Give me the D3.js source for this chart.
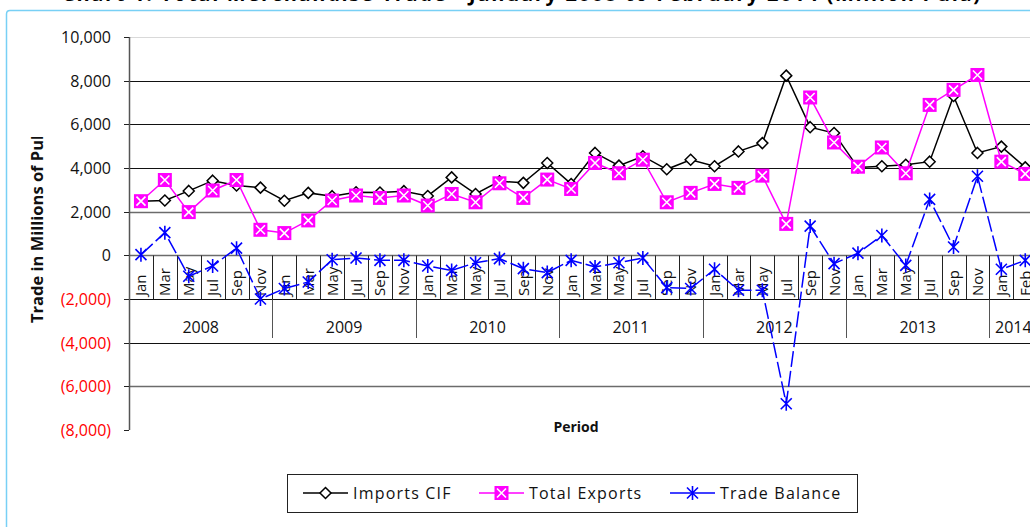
<!DOCTYPE html>
<html>
<head>
<meta charset="utf-8">
<script src="https://cdn.jsdelivr.net/npm/d3@7"></script>
<style>
  body { margin: 0; background: #fff; overflow: hidden; }
  svg { display: block; font-family: "Open Sans", "Noto Sans", sans-serif; }
</style>
</head>
<body>
<div id="chart"></div>
<script>
// bi-monthly periods, Jan 2008 to Feb 2014
var months = ["Jan","Mar","May","Jul","Sep","Nov",
              "Jan","Mar","May","Jul","Sep","Nov",
              "Jan","Mar","May","Jul","Sep","Nov",
              "Jan","Mar","May","Jul","Sep","Nov",
              "Jan","Mar","May","Jul","Sep","Nov",
              "Jan","Mar","May","Jul","Sep","Nov",
              "Jan","Feb"];
var years = ["2008","2009","2010","2011","2012","2013","2014"];
var yearSpan = [6, 6, 6, 6, 6, 6, 2];

var imports = [2480, 2510, 2950, 3420, 3200, 3100,
               2500, 2860, 2710, 2890, 2880, 2940,
               2720, 3570, 2810, 3390, 3320, 4230,
               3270, 4690, 4110, 4540, 3940, 4380,
               4080, 4760, 5140, 8230, 5870, 5600,
               4020, 4080, 4150, 4290, 7300, 4690,
               4980, 4030];
var exports_ = [2480, 3450, 1980, 2970, 3450, 1170,
                1020, 1600, 2510, 2740, 2630, 2740,
                2280, 2810, 2430, 3300, 2630, 3470,
                3040, 4230, 3760, 4380, 2430, 2860,
                3270, 3090, 3650, 1440, 7230, 5170,
                4060, 4940, 3760, 6890, 7580, 8260,
                4290, 3730];
var balance = [30, 1040, -960, -490, 330, -2000,
               -1520, -1220, -200, -120, -230, -230,
               -490, -690, -340, -150, -610, -790,
               -230, -530, -340, -120, -1480, -1520,
               -640, -1600, -1600, -6800, 1340, -380,
               100, 910, -460, 2560, 380, 3620,
               -640, -230];
var yTicks = [10000, 8000, 6000, 4000, 2000, 0, -2000, -4000, -6000, -8000];

var W = 1030, H = 527;
var svg = d3.select("#chart").append("svg")
  .attr("width", W)
  .attr("height", H);

// chart area border (light blue)
svg.append("path")
  .attr("d", "M6.5," + H + " L6.5,14 Q6.5,10.5 10,10.5 L" + W + ",10.5")
  .attr("fill", "none")
  .attr("stroke", "#78d0f5")
  .attr("stroke-width", 1.5);

// title, cut off at the top
svg.append("text")
  .attr("x", 521)
  .attr("y", 1)
  .attr("text-anchor", "middle")
  .attr("font-size", "20px")
  .attr("font-weight", "bold")
  .attr("textLength", 918)
  .text("Chart 1: Total Merchandise Trade - January 2008 to February 2014 (Million Pula)");

var left = 129;
var step = 23.9;
var x = d3.scaleBand()
  .domain(d3.range(months.length))
  .range([left, left + step * months.length]);
var y = d3.scaleLinear()
  .domain([-8000, 10000])
  .range([430, 37]);

function cx(i) { return x(i) + x.bandwidth() / 2; }
function py(v) { return Math.round(y(v)) + 0.5; }

// gridlines
svg.append("line")
  .attr("x1", left).attr("x2", W)
  .attr("y1", py(10000)).attr("y2", py(10000))
  .attr("stroke", "#d9d9d9");
svg.selectAll("line.grid")
  .data(yTicks.filter(function(t) { return t < 10000 && t > -8000; }))
  .enter().append("line")
  .attr("class", "grid")
  .attr("x1", left).attr("x2", W)
  .attr("y1", py).attr("y2", py)
  .attr("stroke", function(t) { return (t == 0 || t == 2000 || t == -6000) ? "#6b6b6b" : "#111"; })
  .attr("stroke-width", function(t) { return (t == 0 || t == 2000 || t == -6000) ? 1.6 : 1; });

// category boxes between 0 and (2,000)
svg.selectAll("line.cat")
  .data(d3.range(1, months.length + 1))
  .enter().append("line")
  .attr("class", "cat")
  .attr("x1", function(i) { return Math.round(left + i * step) + 0.5; })
  .attr("x2", function(i) { return Math.round(left + i * step) + 0.5; })
  .attr("y1", py(0)).attr("y2", py(-2000))
  .attr("stroke", "#222");

svg.selectAll("text.cat")
  .data(months)
  .enter().append("text")
  .attr("class", "cat")
  .attr("font-size", "15px")
  .attr("fill", "#111")
  .attr("transform", function(d, i) { return "translate(" + (cx(i) + 5.5) + ",296) rotate(-90)"; })
  .text(function(d) { return d; });

// year groups
var cum = 0;
years.forEach(function(yr, k) {
  var start = cum;
  cum += yearSpan[k];
  var xe = Math.round(left + cum * step) + 0.5;
  svg.append("line")
    .attr("x1", xe).attr("x2", xe)
    .attr("y1", py(-2000)).attr("y2", 338)
    .attr("stroke", "#555");
  svg.append("text")
    .attr("x", left + (start + cum) / 2 * step)
    .attr("y", 333)
    .attr("text-anchor", "middle")
    .attr("font-size", "16px")
    .attr("fill", "#111")
    .text(yr);
});

// y axis
svg.append("line")
  .attr("x1", left + 0.5).attr("x2", left + 0.5)
  .attr("y1", y(10000)).attr("y2", y(-8000))
  .attr("stroke", "#555").attr("stroke-width", 1.5);
svg.selectAll("line.tick")
  .data(yTicks)
  .enter().append("line")
  .attr("class", "tick")
  .attr("x1", left - 5).attr("x2", left)
  .attr("y1", py).attr("y2", py)
  .attr("stroke", "#222");
var fmt = d3.format(",");
svg.selectAll("text.ytick")
  .data(yTicks)
  .enter().append("text")
  .attr("class", "ytick")
  .attr("x", 111)
  .attr("y", function(t) { return y(t) + 6; })
  .attr("text-anchor", "end")
  .attr("font-size", "16px")
  .attr("fill", function(t) { return t < 0 ? "#ff0000" : "#111"; })
  .text(function(t) { return t < 0 ? "(" + fmt(-t) + ")" : fmt(t); });

// axis titles (y title is cut by the plot box in the original)
svg.append("clipPath").attr("id", "ylab")
  .append("rect").attr("x", 0).attr("y", 137).attr("width", 100).attr("height", 300);
svg.append("g")
  .attr("clip-path", "url(#ylab)")
  .append("text")
  .attr("transform", "translate(43,323) rotate(-90)")
  .attr("font-size", "16.5px")
  .attr("font-weight", "bold")
  .attr("fill", "#111")
  .text("Trade in Millions of Pula");

svg.append("text")
  .attr("x", 576)
  .attr("y", 432)
  .attr("text-anchor", "middle")
  .attr("font-size", "14px")
  .attr("font-weight", "bold")
  .attr("fill", "#111")
  .text("Period");

// markers
function diamond(g) {
  g.append("path")
    .attr("d", "M0,-5.5L5.5,0L0,5.5L-5.5,0Z")
    .attr("fill", "#fff").attr("stroke", "#000").attr("stroke-width", 1.5);
}
function xsquare(g) {
  g.append("rect")
    .attr("x", -7).attr("y", -7).attr("width", 14).attr("height", 14)
    .attr("fill", "#ff00ff");
  g.append("path")
    .attr("d", "M-4.5,-4.5L4.5,4.5M4.5,-4.5L-4.5,4.5")
    .attr("stroke", "#fff").attr("stroke-width", 1.6);
}
function star(g) {
  g.append("path")
    .attr("d", "M-5.5,-5.5L5.5,5.5M5.5,-5.5L-5.5,5.5M0,-7L0,7")
    .attr("stroke", "#0000ff").attr("stroke-width", 1.6);
}

var series = [
  { name: "Imports CIF", values: imports, color: "#000000", dash: null, marker: diamond },
  { name: "Total Exports", values: exports_, color: "#ff00ff", dash: null, marker: xsquare },
  { name: "Trade Balance", values: balance, color: "#0000ff", dash: "16,4", marker: star }
];

var line = d3.line()
  .x(function(d, i) { return cx(i); })
  .y(function(d) { return y(d); });

series.forEach(function(s) {
  svg.append("path")
    .datum(s.values)
    .attr("d", line)
    .attr("fill", "none")
    .attr("stroke", s.color)
    .attr("stroke-width", 1.5)
    .attr("stroke-dasharray", s.dash);
  svg.selectAll(null)
    .data(s.values)
    .enter().append("g")
    .attr("transform", function(d, i) { return "translate(" + cx(i) + "," + y(d) + ")"; })
    .each(function() { s.marker(d3.select(this)); });
});

// legend
var lg = svg.append("g");
lg.append("rect")
  .attr("x", 287.5).attr("y", 474.5)
  .attr("width", 570).attr("height", 38)
  .attr("fill", "#fff").attr("stroke", "#222");
var legendX = [303, 479, 670];
series.forEach(function(s, k) {
  var g = lg.append("g").attr("transform", "translate(" + legendX[k] + ",493)");
  g.append("line")
    .attr("x1", 0).attr("x2", 45)
    .attr("stroke", s.color).attr("stroke-width", 1.5);
  var m = g.append("g").attr("transform", "translate(22.5,0)");
  s.marker(m);
  g.append("text")
    .attr("x", 50)
    .attr("y", 6)
    .attr("font-size", "16px")
    .attr("letter-spacing", "1.2px")
    .attr("fill", "#111")
    .text(s.name);
});
</script>
</body>
</html>
